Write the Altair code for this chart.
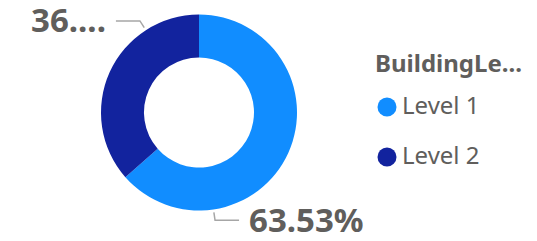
import altair as alt
import numpy as np
import pandas as pd

# ---- data ----
categories = ["Level 1", "Level 2"]
values = [63.53, 36.47]
label_texts = ["63.53%", "36...."]
colors = ["#118DFF", "#12239E"]

# ---- geometry (pixels) ----
W, H = 382, 209          # view size; donut centred in it
R_OUT, R_IN = 98, 55
LEAD_START, LEAD_EXT, LEAD_H, TEXT_GAP = 3, 8, 24, 10
TEXT_COLOR = "#605E5C"
FONT = "Noto Sans"

df = pd.DataFrame({"category": categories, "value": values,
                   "idx": range(len(values)), "label": label_texts})

# leader lines + label anchors derived from slice angles
total = float(np.sum(values))
cum = np.concatenate([[0.0], np.cumsum(values)[:-1]])
line_rows, text_rows = [], []
for cat, v, c0, lab in zip(categories, values, cum, label_texts):
    a = (c0 + 0.75 * v) / total * 2 * np.pi
    s, cz = np.sin(a), np.cos(a)
    side = 1 if s >= 0 else -1
    p0 = ((R_OUT + LEAD_START) * s, (R_OUT + LEAD_START) * cz)
    p1 = ((R_OUT + LEAD_START + LEAD_EXT) * s, (R_OUT + LEAD_START + LEAD_EXT) * cz)
    p2 = (p1[0] + side * LEAD_H, p1[1])
    for k, p in enumerate([p0, p1, p2]):
        line_rows.append({"category": cat, "step": k, "x": p[0], "y": p[1]})
    text_rows.append({"category": cat, "label": lab, "side": side,
                      "x": p2[0] + side * TEXT_GAP, "y": p2[1]})
lines_df = pd.DataFrame(line_rows)
text_df = pd.DataFrame(text_rows)

xs = alt.Scale(domain=[-W / 2, W / 2], nice=False, zero=False)
ys = alt.Scale(domain=[-H / 2, H / 2], nice=False, zero=False)

donut = alt.Chart(df).mark_arc(innerRadius=R_IN, outerRadius=R_OUT).encode(
    theta=alt.Theta("value:Q", stack=True),
    order=alt.Order("idx:Q"),
    color=alt.Color(
        "category:N",
        scale=alt.Scale(domain=categories, range=colors),
        legend=alt.Legend(
            title="BuildingLe...", orient="none", legendX=367, legendY=45,
            titleFont=FONT, titleFontSize=24, titleFontWeight="bold",
            titleColor=TEXT_COLOR, titleLimit=400, titlePadding=18,
            labelFont=FONT, labelFontSize=24, labelColor=TEXT_COLOR,
            labelOffset=3, labelLimit=300,
            symbolType="circle", symbolSize=361, symbolStrokeWidth=0,
            rowPadding=26, padding=0,
        ),
    ),
)

leaders = alt.Chart(lines_df).mark_line(color="#A6A6A6", strokeWidth=1.5).encode(
    x=alt.X("x:Q", scale=xs, axis=None),
    y=alt.Y("y:Q", scale=ys, axis=None),
    detail="category:N",
    order="step:Q",
)

def label_layer(side, align, dy):
    return alt.Chart(text_df).transform_filter(alt.datum.side == side).mark_text(
        align=align, baseline="middle", font=FONT, fontSize=33,
        fontWeight="bold", color=TEXT_COLOR, dy=dy,
    ).encode(
        x=alt.X("x:Q", scale=xs, axis=None),
        y=alt.Y("y:Q", scale=ys, axis=None),
        text="label:N",
    )

chart = alt.layer(donut, leaders, label_layer(1, "left", 1.5), label_layer(-1, "right", 1.5)).properties(
    width=W, height=H,
    autosize=alt.AutoSizeParams(type="none"),
    padding={"left": 0, "top": 0, "right": 139, "bottom": 16},
    background="white",
).configure_view(stroke=None)

chart.save("out.html", embed_options={"renderer": "svg", "actions": False})
